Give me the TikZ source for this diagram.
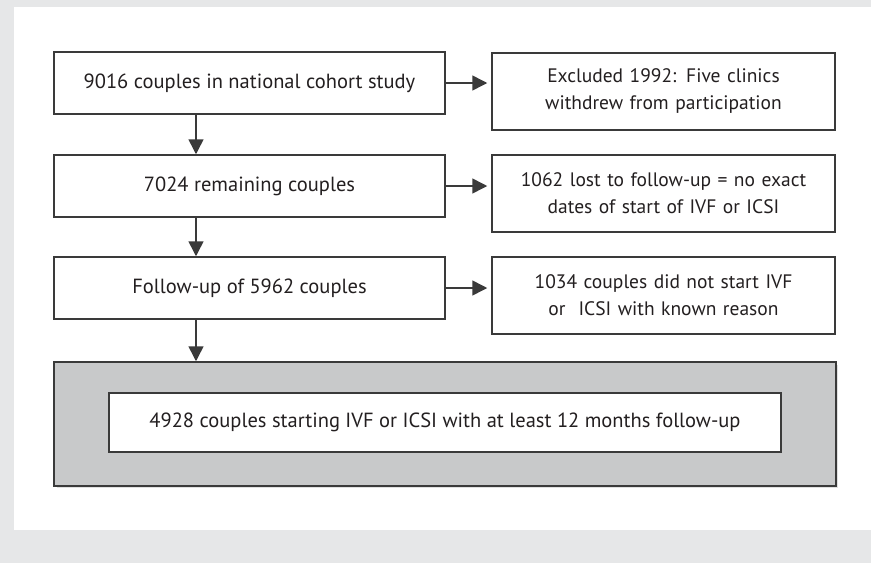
\documentclass[tikz,border=0pt]{standalone}
\usepackage{fontspec}
\setmainfont{PT Sans}
\usetikzlibrary{arrows.meta}
\definecolor{bgray}{HTML}{E6E7E8}
\definecolor{boxgray}{HTML}{C8C9CA}
\definecolor{ink}{HTML}{231F20}
\definecolor{edge}{HTML}{3A3A3A}
\tikzset{
  box/.style={draw=edge, line width=1.5pt, fill=white, inner sep=0pt, align=center,
    text=ink, font=\fontsize{20.5}{27}\selectfont},
  leftbox/.style={box, minimum width=391pt, minimum height=62pt},
  rightbox/.style={box, minimum width=343pt, minimum height=77pt, text width=340pt,
    font=\fontsize{19.5}{27}\selectfont},
  conn/.style={draw=edge, line width=1.5pt, -{Triangle[length=15pt,width=15pt]}}
}
\begin{document}
\begin{tikzpicture}[x=1pt,y=-1pt]
\useasboundingbox (0,0) rectangle (871,563);
\fill[bgray] (0,0) rectangle (871,563);
\fill[white] (14,7) rectangle (871,530);

\node[leftbox] (l1) at (249.5,83) {9016 couples in national cohort study};
\node[leftbox] (l2) at (249.5,186) {7024 remaining couples};
\node[leftbox] (l3) at (249.5,288) {Follow-up of 5962 couples};

\node[rightbox] (r1) at (663.5,91.5) {Excluded 1992: Five clinics\\withdrew from participation};
\node[rightbox] (r2) at (663.5,193.5) {1062 lost to follow-up = no exact\\dates of start of IVF or ICSI};
\node[rightbox] (r3) at (663.5,295.5) {1034 couples did not start IVF\\or~ ICSI with known reason};

\fill[black!12] (57,365) rectangle (838,488);
\node[box, fill=boxgray, minimum width=782pt, minimum height=124pt] (g) at (445,424) {};
\node[box, minimum width=672pt, minimum height=59pt] (fin) at (445,422.5)
  {4928 couples starting IVF or ICSI with at least 12 months follow-up};

\coordinate (d1) at (196,0);
\draw[conn] (l1.south -| d1) -- (l2.north -| d1);
\draw[conn] (l2.south -| d1) -- (l3.north -| d1);
\draw[conn] (l3.south -| d1) -- (g.north -| d1);

\draw[conn, shorten >=4pt] (l1.east) -- (l1.east -| r1.west);
\draw[conn, shorten >=4pt] (l2.east) -- (l2.east -| r2.west);
\draw[conn, shorten >=4pt] (l3.east) -- (l3.east -| r3.west);
\end{tikzpicture}
\end{document}
